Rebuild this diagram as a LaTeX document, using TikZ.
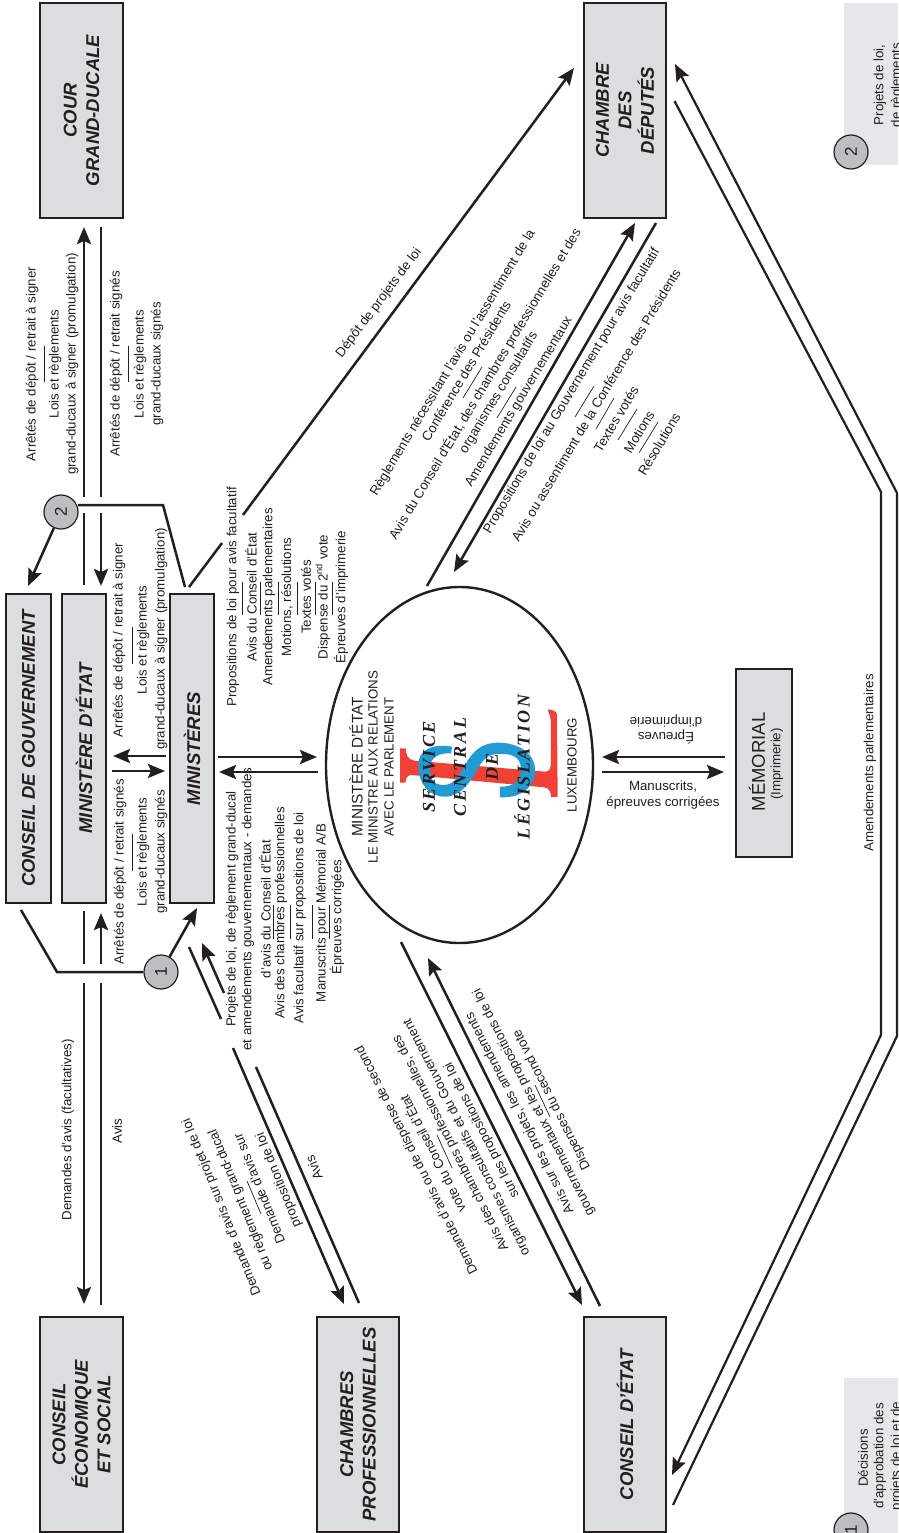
\documentclass[tikz,border=0pt]{standalone}
\usepackage{fontspec}
\setmainfont{Liberation Sans}
\newfontfamily\logofont[LetterSpace=14]{Liberation Serif}
\usetikzlibrary{arrows.meta,shapes.geometric}
\definecolor{ink}{HTML}{231F20}
\definecolor{boxgray}{HTML}{DCDDDE}
\definecolor{leggray}{HTML}{E6E7E8}
\definecolor{discgray}{HTML}{BCBEC0}
\definecolor{logored}{HTML}{EF4136}
\definecolor{logoblue}{HTML}{229BD5}
\newcommand\txtsize{\fontsize{13.3}{16}\selectfont}
\newcommand\conn[4][lnk]{\coordinate (#2a) at (#3); \coordinate (#2b) at (#4); \draw[#1] (#2a) -- (#2b);}
\newcommand\lab[4]{\node[lbl,rotate=#3] (#1) at (#2) {#4};}
\tikzset{
  lnk/.style={line width=2.9pt,draw=ink},
  dlnk/.style={line width=2.5pt,draw=ink},
  olnk/.style={line width=2.2pt,draw=ink},
  arr/.style={lnk,-{Stealth[length=17pt,width=14pt,inset=3pt]}},
  darr/.style={dlnk,-{Stealth[length=17pt,width=14pt,inset=3pt]}},
  sepl/.style={line width=0.7pt,draw=ink},
  lbl/.style={text=ink,inner sep=0pt,font=\txtsize},
  boxst/.style={draw=ink,line width=1.2pt,fill=boxgray,inner sep=0pt,align=center,text=ink,
     font=\fontsize{18.5}{22.5}\selectfont\bfseries\itshape},
  disc/.style={circle,draw=ink,line width=1.2pt,fill=discgray,minimum size=34pt,inner sep=0pt,rotate=90,text=ink,font=\fontsize{17}{20}\selectfont},
  logotext/.style={text=ink,inner sep=0pt,rotate=90,font=\fontsize{18}{20}\selectfont\logofont\bfseries\itshape}
}
\begin{document}
\begin{tikzpicture}[x=1pt,y=-1pt]
\useasboundingbox (0,0) rectangle (898,1533);
\clip (0,0) rectangle (898,1533);
\fill[white] (0,0) rectangle (898,1533);
% legend panels
\fill[leggray] (844,3) rectangle (898,165);
\fill[leggray] (844,1378) rectangle (898,1533);
\lab{lg2a}{880,85}{90}{Projets de loi,}
\lab{lg2b}{897,85}{90}{de règlements}
\lab{lg1a}{863,1458}{90}{Décisions}
\lab{lg1b}{880,1456}{90}{d'approbation des}
\lab{lg1c}{897,1456}{90}{projets de loi et de}
\node[disc] (leg2) at (851,152) {2};
\node[disc] (leg1) at (851,1530) {1};
% boxes
\node[boxst,rotate=90,minimum width=215pt,minimum height=83pt] (cour) at (81.5,110.5) {COUR\\GRAND-DUCALE};
\node[boxst,rotate=90,minimum width=215pt,minimum height=83pt] (ces) at (81.5,1424.5) {CONSEIL\\ÉCONOMIQUE\\ET SOCIAL};
\node[boxst,rotate=90,minimum width=215pt,minimum height=82pt] (chpro) at (358,1424.5) {CHAMBRES\\PROFESSIONNELLES};
\node[boxst,rotate=90,minimum width=215pt,minimum height=82pt] (chdep) at (625,110.5) {CHAMBRE\\DES\\DÉPUTÉS};
\node[boxst,rotate=90,minimum width=215pt,minimum height=82pt] (cetat) at (625,1424.5) {CONSEIL D'ÉTAT};
\node[boxst,rotate=90,minimum width=309pt,minimum height=45pt] (cgouv) at (28.5,748.5) {CONSEIL DE GOUVERNEMENT};
\node[boxst,rotate=90,minimum width=309pt,minimum height=44pt] (mind) at (84,748.5) {MINISTÈRE D'ÉTAT};
\node[boxst,rotate=90,minimum width=309pt,minimum height=44pt] (mins) at (192,748.5) {MINISTÈRES};
\node[draw=ink,line width=1.2pt,fill=boxgray,rotate=90,minimum width=188pt,minimum height=56pt,inner sep=0pt] (memo) at (764,763) {};
\lab{memoa}{757,762}{90}{\fontsize{18.5}{20}\selectfont MÉMORIAL}
\lab{memob}{777,764}{90}{(Imprimerie)}
% ellipse
\node[ellipse,draw=ink,line width=2.4pt,minimum width=267pt,minimum height=356pt,inner sep=0pt] (csl) at (459.5,765) {};
% logo: red letter
\begin{scope}[shift={(390,690)},x=0.3333pt,y=-0.3333pt]
\fill[logored] (30,175) -- (47,175) .. controls (48,195) and (52,207) .. (72,212) -- (465,245)
  .. controls (478,245) and (483,235) .. (483,215) -- (483,100) .. controls (483,85) and (478,72) .. (473,58)
  .. controls (485,60) and (500,62) .. (501,72) -- (503,320) -- (483,322) .. controls (483,305) and (478,295) .. (462,292)
  -- (65,255) .. controls (52,255) and (47,265) .. (46,278) -- (30,278) -- cycle;
\fill[logoblue] (187,170) .. controls (125,160) and (85,180) .. (85,225)
  .. controls (85,280) and (115,320) .. (165,320)
  .. controls (215,320) and (245,270) .. (270,225)
  .. controls (290,192) and (315,190) .. (340,192)
  .. controls (385,192) and (395,220) .. (393,245)
  .. controls (390,275) and (365,292) .. (330,290)
  -- (330,322)
  .. controls (395,325) and (435,290) .. (435,240)
  .. controls (435,190) and (385,158) .. (325,158)
  .. controls (270,158) and (245,190) .. (225,225)
  .. controls (205,262) and (190,285) .. (160,285)
  .. controls (125,285) and (120,260) .. (120,235)
  .. controls (120,200) and (150,188) .. (183,190) -- cycle;
\end{scope}
\node[logotext] (ls1) at (429,767) {SERVICE};
\node[logotext] (ls2) at (460,767) {CENTRAL};
\node[logotext] (ls3) at (492,767) {DE};
\node[logotext] (ls4) at (522,767) {LÉGISLATION};
\lab{el1}{356,767}{90}{\fontsize{15.4}{18}\selectfont MINISTÈRE D'ÉTAT}
\lab{el2}{373,767}{90}{LE MINISTRE AUX RELATIONS}
\lab{el3}{389,767}{90}{AVEC LE PARLEMENT}
\lab{el4}{572,765}{90}{LUXEMBOURG}
% numbered discs
\node[disc] (c2) at (61,512) {2};
\node[disc] (c1) at (161,972) {1};
% connectors, upper left
\conn[arr]{a1}{84,497}{84,227}
\conn{a2}{101,497}{101,227}
\conn{a3}{84,513}{84,585}
\conn[arr]{a4}{101,513}{101,586}
\conn[arr]{a5}{166,756}{113,756}
\conn[arr]{a6}{112,771}{165,771}
\conn[arr]{a7}{218,757}{317,757}
\conn[arr]{a8}{318,772}{219,772}
\conn{a9}{84,911}{84,964}
\conn[arr]{a10}{101,964}{101,913}
\conn[arr]{a11}{84,983}{84,1304}
\conn{a12}{101,983}{101,1305}
% connectors from discs
\coordinate (k1a) at (57,972); \coordinate (k1b) at (21,910);
\draw[dlnk] (c1) -- (k1a) -- (k1b);
\coordinate (k2t) at (197,908);
\draw[darr] (c1) -- (k2t);
\coordinate (k3s) at (78,505); \coordinate (k3a) at (163,505); \coordinate (k3b) at (185,587);
\draw[dlnk] (k3s) -- (k3a) -- (k3b);
\coordinate (k4t) at (28,586);
\draw[darr] (c2) -- (k4t);
% chambres professionnelles pair
\conn[dlnk]{b1}{189,947}{221,1019}
\conn[darr]{b2}{233,1048}{344,1304}
\conn[dlnk]{b3}{359,1303}{256,1067}
\conn[darr]{b4}{224,993}{202,943}
% conseil d'etat pair
\conn[darr]{d1}{401,942}{582,1305}
\conn[darr]{d2}{600,1306}{428,958}
% chambre des deputes pair
\conn[darr]{e1}{427,586}{635,223}
\conn[darr]{e2}{656,223}{454,572}
% depot
\conn[dlnk]{f1}{189,587}{222,543}
\conn[darr]{f2}{243,515}{574,68}
% memorial
\conn[arr]{g1}{725,757}{602,757}
\conn[arr]{g2}{602,772}{724,772}
% outer double line
\coordinate (h1) at (881,492); \coordinate (h2) at (881,1035); \coordinate (h3) at (672,1475); \coordinate (h0) at (674.5,101);
\draw[olnk,-{Stealth[length=17pt,width=14pt,inset=3pt]}] (h0) -- (h1) -- (h2) -- (h3);
\coordinate (i0) at (673,1505); \coordinate (i1) at (897,1036); \coordinate (i2) at (897,493); \coordinate (i3) at (675,64);
\draw[olnk,-{Stealth[length=17pt,width=14pt,inset=3pt]}] (i0) -- (i1) -- (i2) -- (i3);
% labels: cour grand-ducale
\lab{t1}{32,364}{90}{Arrêtés de dépôt / retrait à signer}
\conn[sepl]{s1}{44.5,346}{44.5,382}
\lab{t2}{55,364}{90}{Lois et règlements}
\lab{t3}{72,364}{90}{grand-ducaux à signer (promulgation)}
\lab{t4}{116,364}{90}{Arrêtés de dépôt / retrait signés}
\conn[sepl]{s2}{128,346}{128,382}
\lab{t5}{140,364}{90}{Lois et règlements}
\lab{t6}{157,364}{90}{grand-ducaux signés}
% ministere d'etat / ministeres
\lab{t7}{119,640}{90}{Arrêtés de dépôt / retrait à signer}
\conn[sepl]{s3}{132,627}{132,664}
\lab{t8}{143,640}{90}{Lois et règlements}
\lab{t9}{161,639}{90}{grand-ducaux à signer (promulgation)}
\lab{t10}{120,872}{90}{Arrêtés de dépôt / retrait signés}
\conn[sepl]{s4}{132,834}{132,871}
\lab{t11}{143,852}{90}{Lois et règlements}
\lab{t12}{161,852}{90}{grand-ducaux signés}
% propositions cluster
\lab{t13}{233,597}{90}{Propositions de loi pour avis facultatif}
\conn[sepl]{s5}{242,582}{242,615}
\lab{t14}{251,597}{90}{Avis du Conseil d'État}
\conn[sepl]{s6}{260,582}{260,615}
\lab{t15}{269,597}{90}{Amendements parlementaires}
\conn[sepl]{s7}{278,582}{278,615}
\lab{t16}{287,597}{90}{Motions, résolutions}
\conn[sepl]{s8}{297,582}{297,615}
\lab{t17}{306,597}{90}{Textes votés}
\conn[sepl]{s9}{315,582}{315,615}
\lab{t18}{323,597}{90}{Dispense du 2\textsuperscript{nd} vote}
\conn[sepl]{s10}{332,582}{332,615}
\lab{t19}{341,597}{90}{Épreuves d'imprimerie}
% projets cluster
\lab{t20}{232,909}{90}{Projets de loi, de règlement grand-ducal}
\lab{t21}{248,909}{90}{et amendements gouvernementaux - demandes}
\lab{t22}{265,909}{90}{d'avis du Conseil d'État}
\conn[sepl]{s11}{273,905}{273,939}
\lab{t23}{281,913}{90}{Avis des chambres professionnelles}
\conn[sepl]{s12}{290,905}{290,939}
\lab{t24}{300,918}{90}{Avis facultatif sur propositions de loi}
\conn[sepl]{s13}{312,905}{312,939}
\lab{t25}{322,913}{90}{Manuscrits pour Mémorial A/B}
\conn[sepl]{s14}{329,905}{329,939}
\lab{t26}{337,917}{90}{Épreuves corrigées}
% lower left
\lab{t27}{68,1130}{90}{Demandes d'avis (facultatives)}
\lab{t28}{117,1131}{90}{Avis}
% chambres prof cluster
\lab{t29}{222,1207}{112}{Demande d'avis sur projet de loi}
\lab{t30}{241,1200}{112}{ou règlement grand-ducal}
\conn[sepl]{s15}{247,1181}{261,1214}
\lab{t31}{259,1189}{112}{Demande d'avis sur}
\lab{t32}{279,1180}{112}{proposition de loi}
\lab{t33}{314,1168}{113}{Avis}
% conseil d'etat cluster
\lab{t34}{417,1160}{117}{Demande d'avis ou de dispense de second}
\lab{t35}{432,1154}{117}{vote du Conseil d'État}
\conn[sepl]{s16}{437,1135}{452,1168}
\lab{t36}{451,1143}{117}{Avis des chambres professionnelles, des}
\lab{t37}{467,1137}{117}{organismes consultatifs et du Gouvernement}
\lab{t38}{482,1130}{117}{sur les propositions de loi}
\lab{t39}{520,1113}{117}{Avis sur les projets, les amendements}
\lab{t40}{534,1102}{117}{gouvernementaux et les propositions de loi}
\conn[sepl]{s17}{535,1085}{550,1117}
\lab{t41}{552,1100}{117}{Dispenses du second vote}
% depot label
\lab{t42}{379,303}{53}{Dépôt de projets de loi}
% chambre des deputes cluster
\lab{t43}{453,363}{59}{Règlements nécessitant l'avis ou l'assentiment de la}
\lab{t44}{466,371}{59}{Conférence des Présidents}
\conn[sepl]{s18}{463,398}{482,367}
\lab{t45}{485,384}{59}{Avis du Conseil d'État, des chambres professionnelles et des}
\lab{t46}{499,393}{59}{organismes consultatifs}
\conn[sepl]{s19}{497,418}{516,387}
\lab{t47}{519,402}{59}{Amendements gouvernementaux}
\lab{t48}{572,391}{59}{Propositions de loi au Gouvernement pour avis facultatif}
\conn[sepl]{s20}{575,417}{594,386}
\lab{t49}{596,405}{59}{Avis ou assentiment de la Conférence des Présidents}
\conn[sepl]{s21}{596,429}{614,398}
\lab{t50}{616,419}{59}{Textes votés}
\conn[sepl]{s22}{618,440}{637,409}
\lab{t51}{639,432}{59}{Motions}
\conn[sepl]{s23}{639,453}{658,422}
\lab{t52}{659,444}{59}{Résolutions}
% memorial labels
\lab{t53}{663,787}{0}{Manuscrits,}
\lab{t54}{663,803}{0}{épreuves corrigées}
\lab{t55}{666,737}{180}{Épreuves}
\lab{t56}{666,721}{180}{d'imprimerie}
% outer label
\lab{t57}{870,763}{90}{Amendements parlementaires}
\end{tikzpicture}
\end{document}
